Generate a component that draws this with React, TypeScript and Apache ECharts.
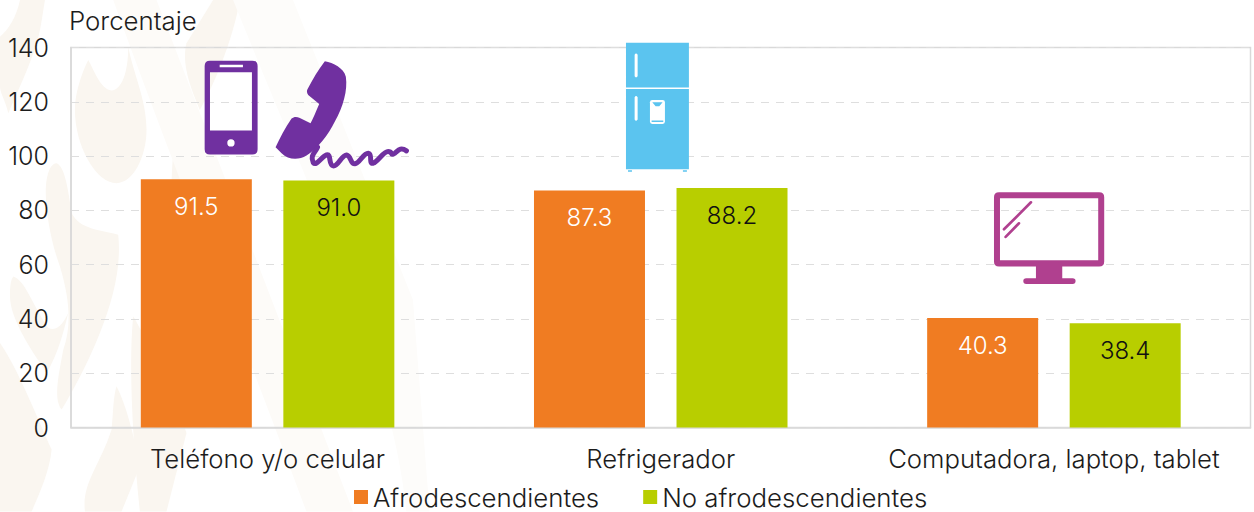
import React, { useEffect, useRef } from "react";
import * as echarts from "echarts";

const categories = ["Teléfono y/o celular", "Refrigerador", "Computadora, laptop, tablet"];
const afro = [91.5, 87.3, 40.3];
const noAfro = [91.0, 88.2, 38.4];
const yTicks = { min: 0, max: 140, interval: 20 };
const FONT = "Inter";
const TEXT = "#1c1c1c";

const reg = (name: string, d: string) =>
  echarts.graphic.registerShape(name, echarts.graphic.extendPath(d, {}) as any);

reg("wm1", "M60 0 L135 0 C125 60 120 110 100 160 C75 230 50 280 25 340 C15 300 0 280 0 260 L0 110 C25 90 50 50 60 0 Z");
reg("wm2", "M265 180 C285 215 300 265 335 272 C365 270 385 220 385 140 C400 220 440 300 440 390 C440 470 400 550 350 550 C290 550 225 440 225 330 C225 280 245 220 265 180 Z");
reg("wm3", "M170 490 C195 500 205 570 215 640 C240 690 300 690 355 705 C365 800 340 900 300 1000 C260 1100 215 1180 185 1230 C160 1200 175 1130 190 1050 C215 980 210 900 180 800 C150 720 130 600 140 540 C145 510 155 490 170 490 Z");
reg("wm4", "M40 830 C75 840 100 920 145 985 C175 1000 195 960 205 940 C190 1000 175 1060 140 1120 C100 1060 30 960 30 890 C30 860 32 840 40 830 Z");
reg("wm5", "M0 1030 C50 1100 110 1250 155 1350 C150 1410 120 1480 95 1536 L0 1536 Z");
reg("wm6", "M350 1160 C380 1220 400 1300 420 1400 C400 1450 380 1500 365 1536 L255 1536 C245 1450 300 1400 335 1290 C340 1240 340 1190 350 1160 Z");
reg("wm7", "M560 130 L640 0 L720 0 C700 120 640 260 600 330 C570 260 545 190 560 130 Z");
reg("wm8", "M540 360 C575 410 620 480 640 530 C660 640 600 800 540 880 C510 760 510 580 520 460 C522 420 530 385 540 360 Z");
reg("wm9", "M400 950 C430 1000 520 1180 560 1300 L500 1536 L420 1536 C400 1350 385 1100 400 950 Z");
reg("wm10", "M340 0 L470 0 L1060 1536 L920 1536 C760 1100 520 500 340 0 Z");
reg("wm11", "M700 0 L880 0 L1240 900 L1290 1536 L1220 1536 C1180 1100 900 500 700 0 Z");

reg("phoneBody", "M60 62 L187 62 Q203 62 203 78 L203 328 Q203 344 187 344 L60 344 Q44 344 44 328 L44 78 Q44 62 60 62 Z M60 97 L60 272 L186 272 L186 97 Z M89 74 L89 82 L159 82 L159 74 Z M123 298 A11 11 0 1 0 123.01 320 A11 11 0 1 0 123 298 Z");
reg("handset", "M405 64 C430 68 462 85 468 110 C474 150 460 200 435 245 C415 285 385 325 350 347 C325 362 295 360 275 340 L257 322 C270 295 285 265 305 236 C312 230 320 230 330 234 L362 250 C370 235 378 215 388 192 L355 165 C350 158 350 152 354 146 C370 115 385 90 405 64 Z");
reg("cord", "M383 322 C375 340 360 345 370 368 C380 380 395 350 410 345 C425 340 415 375 430 378 C445 380 455 345 470 345 C485 348 480 372 495 372 C510 370 520 340 535 340 C550 342 535 372 550 370 C565 365 580 335 595 335 C610 335 600 350 615 340 C625 332 632 320 650 333");
reg("fridge", "M78 38 L267 38 L267 173 L78 173 Z M104 74 L104 139 Q108 146 113 139 L113 74 Q108 67 104 74 Z M78 177 L267 177 L267 418 L78 418 Z M104 202 L104 269 Q108 276 113 269 L113 202 Q108 195 104 202 Z M84 421 L96 421 L96 426 L84 426 Z M249 421 L261 421 L261 426 L249 426 Z");
reg("dispenser", "M157 210 L188 210 Q195 210 195 217 L195 275 Q195 282 188 282 L157 282 Q150 282 150 275 L150 217 Q150 210 157 210 Z");
reg("fridgeSpout", "M157 217 L188 217 L178 229 L167 229 Z M155 272 L190 272 L190 276 L155 276 Z");
reg("monitor", "M57 37 L358 37 Q373 37 373 52 L373 245 Q373 260 358 260 L247 260 L247 295 L278 295 Q287 295 287 303 Q287 312 278 312 L139 312 Q130 312 130 303 Q130 295 139 295 L168 295 L168 260 L57 260 Q42 260 42 245 L42 52 Q42 37 57 37 Z M60 55 L60 241 L355 241 L355 55 Z");
reg("glare", "M72 148 L153 67 M77 171 L117 130");

export default function App() {
  const ref = useRef<HTMLDivElement>(null);
  useEffect(() => {
    const chart = echarts.init(ref.current!, null, { renderer: "svg" });
    const wmNames = ["wm1","wm2","wm3","wm4","wm5","wm6","wm7","wm8","wm9"];
    const s = 1 / 3;
    chart.setOption({
      animation: false,
      backgroundColor: "#ffffff",
      grid: { left: 71, right: 3.5, top: 47.5, bottom: 84.5, show: true, borderColor: "#D9D9D9", borderWidth: 1.5, backgroundColor: "transparent" },
      textStyle: { fontFamily: FONT },
      legend: {
        data: ["Afrodescendientes", "No afrodescendientes"],
        left: 354, top: 484, padding: 0, itemWidth: 14, itemHeight: 14, itemGap: 44,
        icon: "rect",
        textStyle: { fontFamily: FONT, fontWeight: 300, fontSize: 25.8, lineHeight: 24, color: TEXT },
      },
      xAxis: {
        type: "category", data: categories,
        axisLine: { lineStyle: { color: "#D9D9D9", width: 1.5 } },
        axisTick: { show: false },
        splitLine: { show: false },
        axisLabel: { interval: 0, fontFamily: FONT, fontWeight: 300, fontSize: 25.7, color: TEXT, margin: 18 },
      },
      yAxis: {
        type: "value", ...yTicks,
        axisLine: { show: true, lineStyle: { color: "#D9D9D9", width: 1.5 } },
        axisTick: { show: false },
        splitLine: { lineStyle: { color: "#DEDEDE", type: [8, 7], width: 1.2 } },
        axisLabel: { fontFamily: FONT, fontWeight: 300, fontSize: 25, color: TEXT, margin: 22 },
        name: "Porcentaje", nameLocation: "end", nameGap: 14,
        nameTextStyle: { fontFamily: FONT, fontWeight: 300, fontSize: 25.8, color: TEXT, align: "left", padding: [0, 0, 0, -2] },
      },
      series: [
        {
          name: "Afrodescendientes", type: "bar", data: afro, barWidth: 111, barGap: "28.4%",
          itemStyle: { color: "#F07C22" }, z: 3,
          label: { show: true, position: "insideTop", distance: 15, formatter: (p: any) => p.value.toFixed(1), color: "#ffffff", fontFamily: FONT, fontWeight: 300, fontSize: 24 },
        },
        {
          name: "No afrodescendientes", type: "bar", data: noAfro, barWidth: 111,
          itemStyle: { color: "#B8CE00" }, z: 3,
          label: { show: true, position: "insideTop", distance: 15, formatter: (p: any) => p.value.toFixed(1), color: "#111111", fontFamily: FONT, fontWeight: 300, fontSize: 24 },
        },
      ],
      graphic: [
        ...wmNames.map((t) => ({ type: t, x: 0, y: 0, scaleX: s, scaleY: s, z: -10, silent: true, style: { fill: "#FAF6F0" } })),
        { type: "wm10", x: 0, y: 0, scaleX: s, scaleY: s, z: -10, silent: true, style: { fill: "#FDFBF8" } },
        { type: "wm11", x: 0, y: 0, scaleX: s, scaleY: s, z: -10, silent: true, style: { fill: "#FDFCFA" } },
        { type: "phoneBody", x: 190, y: 40, scaleX: s, scaleY: s, z: 10, silent: true, style: { fill: "#7030A0" } },
        { type: "handset", x: 190, y: 40, scaleX: s, scaleY: s, z: 10, silent: true, style: { fill: "#7030A0" } },
        { type: "cord", x: 190, y: 40, scaleX: s, scaleY: s, z: 10, silent: true, style: { fill: "none", stroke: "#7030A0", lineWidth: 15, lineCap: "round" } },
        { type: "fridge", x: 600, y: 30, scaleX: s, scaleY: s, z: 10, silent: true, style: { fill: "#5BC4EF" } },
        { type: "dispenser", x: 600, y: 30, scaleX: s, scaleY: s, z: 11, silent: true, style: { fill: "#ffffff" } },
        { type: "fridgeSpout", x: 600, y: 30, scaleX: s, scaleY: s, z: 12, silent: true, style: { fill: "#5BC4EF" } },
        { type: "monitor", x: 980, y: 180, scaleX: s, scaleY: s, z: 10, silent: true, style: { fill: "#B0408F" } },
        { type: "glare", x: 980, y: 180, scaleX: s, scaleY: s, z: 10, silent: true, style: { fill: "none", stroke: "#B0408F", lineWidth: 8, lineCap: "round" } },
      ],
    });
    return () => chart.dispose();
  }, []);
  return <div ref={ref} style={{ position: "absolute", left: 0, top: 0, width: 1254, height: 512 }} />;
}
